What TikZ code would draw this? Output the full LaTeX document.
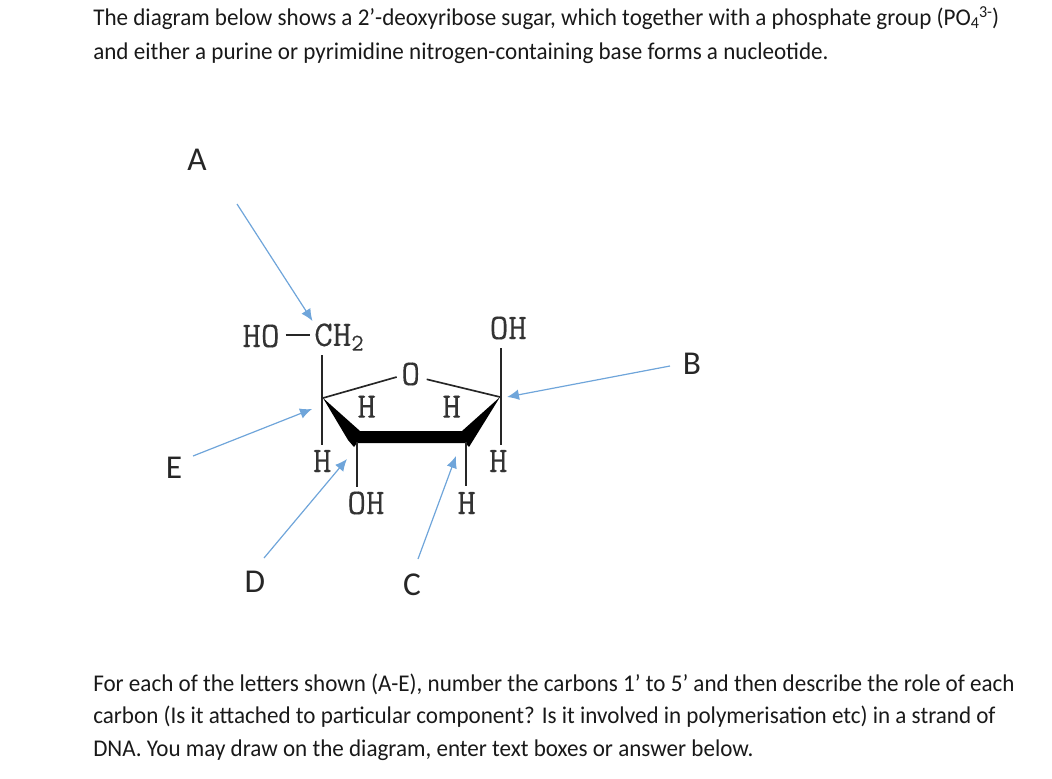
\documentclass[tikz,border=0pt]{standalone}
\usepackage{fontspec}
\setmainfont{Carlito}
\newfontfamily\parafont[FakeStretch=0.962]{Carlito}
\newfontfamily\chemfont[FakeBold=0.25]{Latin Modern Mono}
\newcommand{\lo}[1]{\raisebox{-0.22ex}{\fontsize{12.5}{12.5}\selectfont #1}}
\newcommand{\hi}[1]{\raisebox{0.7ex}{\fontsize{12.5}{12.5}\selectfont #1}}
\usetikzlibrary{arrows.meta}
\definecolor{arrowblue}{HTML}{6FA5DA}
\tikzset{
  para/.style={anchor=base west,inner sep=0pt,font=\parafont\fontsize{18}{18}\selectfont,text=black!90},
  letter/.style={inner sep=0pt,font=\fontsize{25}{25}\selectfont,text=black!85},
  chem/.style={inner sep=0pt,font=\chemfont\fontsize{27}{27}\selectfont,text=black!80},
  bond/.style={draw=black!85,line width=1.25pt},
  pointer/.style={draw=arrowblue,line width=0.9pt,-{Latex[length=9pt,width=8pt]}},
}
\begin{document}
\begin{tikzpicture}[x=0.75pt,y=-0.75pt]
\useasboundingbox (0,0) rectangle (1052,778);
\node[para] (t1) at (93,26) {The diagram below shows a 2’-deoxyribose sugar, which together with a phosphate group (PO\lo{4}\hi{3-})};
\node[para] (t2) at (93,59) {and either a purine or pyrimidine nitrogen-containing base forms a nucleotide.};
\node[para] (t3) at (93,691) {For each of the letters shown (A-E), number the carbons 1’ to 5’ and then describe the role of each};
\node[para] (t4) at (93,723) {carbon (Is it attached to particular component? Is it involved in polymerisation etc) in a strand of};
\node[para] (t5) at (93,756) {DNA. You may draw on the diagram, enter text boxes or answer below.};

\node[letter] (A) at (197,160) {A};
\node[letter] (B) at (692,364) {B};
\node[letter] (C) at (412,585) {C};
\node[letter] (D) at (255,582) {D};
\node[letter] (E) at (174,468) {E};

\coordinate (c4) at (323,398);
\coordinate (c1) at (500,397);

\fill[black] (c4) -- (360,431) -- (462,431) -- (c1) -- (469,447) -- (465,443) -- (357,443) -- (354,447) -- (348,440) -- cycle;

\node[chem] (ho) at (261,336) {HO};
\node[chem,anchor=west] (ch) at (314,337) {CH\raisebox{-0.3ex}{\chemfont\fontsize{18}{18}\selectfont 2}};
\node[chem] (o) at (410.7,374) {O};
\node[chem] (oh1) at (508.3,328) {OH};
\node[chem] (h1) at (366.7,406.7) {H};
\node[chem] (h2) at (451.7,406.7) {H};
\node[chem] (h3) at (322.3,461) {H};
\node[chem] (h4) at (498.3,461) {H};
\node[chem] (oh2) at (366,503) {OH};
\node[chem] (h5) at (466.7,503) {H};

\coordinate (d1) at (285.7,335); \coordinate (d2) at (310,335);
\coordinate (v1) at (322.3,355); \coordinate (v2) at (322.3,445);
\coordinate (r1) at (396.7,377); \coordinate (r2) at (426.7,379.3);
\coordinate (v3) at (500.7,348); \coordinate (v4) at (500.7,445);
\coordinate (v5) at (356.7,442); \coordinate (v6) at (356.7,487);
\coordinate (v7) at (466,442); \coordinate (v8) at (466,486);
\draw[bond] (d1) -- (d2);
\draw[bond] (v1) -- (v2);
\draw[bond] (c4) -- (r1);
\draw[bond] (r2) -- (c1);
\draw[bond] (v3) -- (v4);
\draw[bond] (v5) -- (v6);
\draw[bond] (v7) -- (v8);

\coordinate (a0) at (237,204); \coordinate (a1) at (312.5,321);
\coordinate (b0) at (670,366); \coordinate (b1) at (507,397);
\coordinate (c0) at (418,559); \coordinate (c5) at (456,456);
\coordinate (d0) at (264,558); \coordinate (d5) at (347,459);
\coordinate (e0) at (193,456); \coordinate (e1) at (312,409);
\draw[pointer] (a0) -- (a1);
\draw[pointer] (b0) -- (b1);
\draw[pointer] (c0) -- (c5);
\draw[pointer] (d0) -- (d5);
\draw[pointer] (e0) -- (e1);
\end{tikzpicture}
\end{document}
